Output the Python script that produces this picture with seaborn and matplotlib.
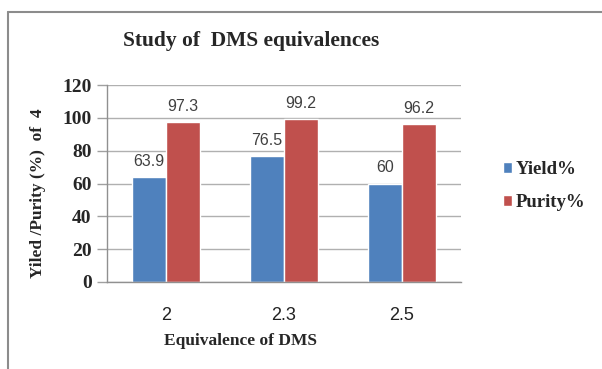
import matplotlib
matplotlib.use("Agg")
import matplotlib.pyplot as plt
import seaborn as sns
import pandas as pd
from matplotlib.lines import Line2D

categories = ["2", "2.3", "2.5"]
yield_vals = [63.9, 76.5, 60]
purity_vals = [97.3, 99.2, 96.2]
series_names = ["Yield%", "Purity%"]
yticks = [0, 20, 40, 60, 80, 100, 120]

df = pd.DataFrame({
    "equiv": categories * 2,
    "value": yield_vals + purity_vals,
    "series": [series_names[0]] * 3 + [series_names[1]] * 3,
})

sns.set_theme(style="white")
W, H = 602, 369
fig = plt.figure(figsize=(W / 100, H / 100), dpi=100)
ax = fig.add_axes([107 / W, 1 - 282 / H, (461 - 107) / W, (282 - 85) / H])

sns.barplot(data=df, x="equiv", y="value", hue="series",
            palette=["#4F81BD", "#C0504D"], width=0.58, saturation=1,
            ax=ax, legend=True)

serif = ["Liberation Serif", "DejaVu Serif"]
sans = ["Liberation Sans", "DejaVu Sans"]

for c in ax.containers:
    ax.bar_label(c, labels=[f"{v:g}" for v in c.datavalues], padding=6,
                 fontsize=11.5, color="#404040", family=sans)

ax.set_ylim(0, 120)
ax.set_yticks(yticks)
ax.set_yticklabels([str(t) for t in yticks], family=serif, fontweight="bold", fontsize=14)
ax.set_xticks(range(len(categories)))
ax.set_xticklabels(categories, family=sans, fontsize=13, color="#222222")
ax.tick_params(axis="y", length=7, color="#a0a0a0", width=1, pad=4, left=True)
ax.tick_params(axis="x", length=0, pad=18)
ax.yaxis.grid(True, color="#b0b0b0", linewidth=1)
ax.set_axisbelow(True)
for s in ["top", "right"]:
    ax.spines[s].set_visible(False)
for s in ["left", "bottom"]:
    ax.spines[s].set_color("#909090")
    ax.spines[s].set_linewidth(1)
ax.set_xlabel("")
ax.set_ylabel("Yiled /Purity (%)  of  4", family=serif, fontweight="bold", fontsize=12.5)
ax.yaxis.set_label_coords((46 - 107) / (461 - 107), (282 - 193) / (282 - 85))

handles, labels = ax.get_legend_handles_labels()
ax.legend(handles, labels, loc="center left", bbox_to_anchor=(486 / W, 1 - 186 / H),
          bbox_transform=fig.transFigure, frameon=False,
          prop={"family": serif, "weight": "bold", "size": 13.5},
          handlelength=0.5, handleheight=0.5, handletextpad=0.2, labelspacing=0.85)

fig.text(251 / W, 1 - 41 / H, "Study of  DMS equivalences", ha="center", va="center",
         family=serif, fontweight="bold", fontsize=15.5)
fig.text(240 / W, 1 - 341 / H, "Equivalence of DMS", ha="center", va="center",
         family=serif, fontweight="bold", fontsize=12.5)

fig.add_artist(Line2D([8 / W, 8 / W], [0, 1 - 12 / H], transform=fig.transFigure,
                      color="#8c8c8c", linewidth=1.5))
fig.add_artist(Line2D([8 / W, 1], [1 - 12 / H, 1 - 12 / H], transform=fig.transFigure,
                      color="#8c8c8c", linewidth=1.5))

fig.savefig("out.png", dpi=100)
